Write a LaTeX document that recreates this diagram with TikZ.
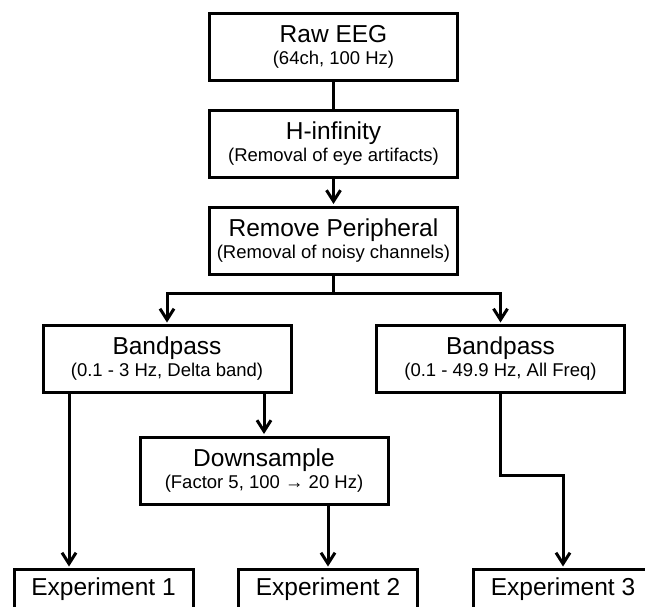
\documentclass[tikz,border=0pt]{standalone}
\usepackage{fontspec}
\setmainfont{Liberation Sans}
\usetikzlibrary{arrows.meta}

\newcommand{\stagefs}{\fontsize{24.5}{29}\selectfont}
\newcommand{\notefs}{\fontsize{18.5}{22}\selectfont}

\tikzset{
  stage/.style={draw, line width=3pt, align=center, font=\notefs, inner sep=0pt,
    minimum width=248pt, minimum height=67pt},
  expbox/.style={draw, line width=3pt, font=\stagefs, inner sep=0pt,
    minimum width=179pt, minimum height=39pt},
  link/.style={line width=3pt},
  flow/.style={line width=3pt, -{Straight Barb[length=11pt,width=14pt]}, shorten >=1.5pt},
}

\begin{document}
\begin{tikzpicture}[x=1pt,y=-1pt]

\useasboundingbox (0,0) rectangle (645,606) ;
\clip (0,0) rectangle (645,606) ;

\node[stage] (raw) at (333.5,46.5) {{\stagefs Raw EEG}\\(64ch, 100 Hz)} ;
\node[stage] (hinf) at (333.5,143.5) {{\stagefs H-infinity}\\(Removal of eye artifacts)} ;
\node[stage] (remper) at (333.5,240.5) {{\stagefs Remove Peripheral}\\(Removal of noisy channels)} ;
\node[stage] (bpdelta) at (167,359) {{\stagefs Bandpass}\\(0.1 - 3 Hz, Delta band)} ;
\node[stage] (bpall) at (500.5,359) {{\stagefs Bandpass}\\(0.1 - 49.9 Hz, All Freq)} ;
\node[stage] (down) at (264,470.5) {{\stagefs Downsample}\\(Factor 5, 100 → 20 Hz)} ;

\node[expbox] (exp1) at (103.5,589) {Experiment 1} ;
\node[expbox] (exp2) at (328,589) {Experiment 2} ;
\node[expbox] (exp3) at (563,589) {Experiment 3} ;

\coordinate (split) at (333.5,293) ;
\coordinate (tap1) at (69,0) ;

\draw[link] (raw) -- (hinf) ;
\draw[flow] (hinf) -- (remper) ;
\draw[link] (remper.south) -- (split) ;
\draw[flow] (split) -| (bpdelta.north) ;
\draw[flow] (split) -| (bpall.north) ;

\draw[flow] (bpdelta.south -| tap1) -- (exp1.north -| tap1) ;
\draw[flow] (bpdelta.south -| down.north) -- (down.north) ;
\draw[flow] (down.south -| exp2.north) -- (exp2.north) ;
\draw[flow] (bpall.south) -- ++(0,81) -| (exp3.north) ;

\end{tikzpicture}
\end{document}
